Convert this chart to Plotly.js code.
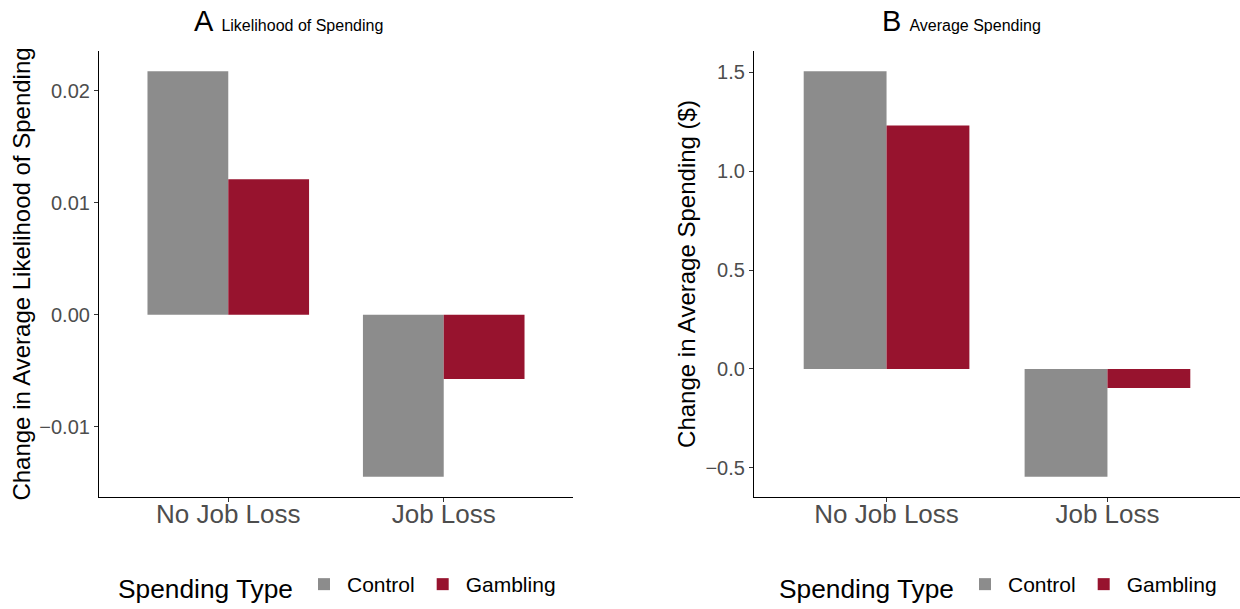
<!DOCTYPE html>
<html>
<head>
<meta charset="utf-8">
<script src="https://cdn.plot.ly/plotly-3.0.1.min.js"></script>
<style>html,body{margin:0;padding:0;background:#fff;}#chart{width:1240px;height:609px;}</style>
</head>
<body>
<div id="chart"></div>
<script>
// ---- data ----
const categories = ["No Job Loss", "Job Loss"];
const seriesNames = ["Control", "Gambling"];
const likelihoodControl = [0.02176, -0.01446];
const likelihoodGambling = [0.01212, -0.00574];
const spendingControl = [1.505, -0.545];
const spendingGambling = [1.231, -0.096];
const likelihoodTicks = [-0.01, 0, 0.01, 0.02];
const spendingTicks = [-0.5, 0, 0.5, 1.0, 1.5];
const panelTitleA = ["A", "Likelihood of Spending"];
const panelTitleB = ["B", "Average Spending"];
const yTitleA = "Change in Average Likelihood of Spending";
const yTitleB = "Change in Average Spending ($)";
const legendTitle = "Spending Type";

const colors = {Control: "#8C8C8C", Gambling: "#97132E"};
const W = 1240, H = 609;
const px = v => v / W;
const py = v => 1 - v / H;
const FONT = "Liberation Sans, Arial, sans-serif";

function bar(name, y, xa, ya, leg) {
  return {
    type: "bar", name: name, x: categories, y: y,
    xaxis: xa, yaxis: ya, legend: leg,
    marker: {color: colors[name], line: {width: 0}},
    hoverinfo: "x+y+name"
  };
}

const data = [
  bar(seriesNames[0], likelihoodControl, "x", "y", "legend"),
  bar(seriesNames[1], likelihoodGambling, "x", "y", "legend"),
  bar(seriesNames[0], spendingControl, "x2", "y2", "legend2"),
  bar(seriesNames[1], spendingGambling, "x2", "y2", "legend2")
];

function xAxis(domain, anchor) {
  return {
    domain: domain, anchor: anchor, type: "category",
    range: [-0.6, 1.6], fixedrange: true,
    showline: true, linecolor: "#000", linewidth: 1.2,
    ticks: "outside", ticklen: 4, tickcolor: "#333", tickwidth: 1.1,
    ticklabelstandoff: -10,
    showgrid: false, zeroline: false,
    tickfont: {family: FONT, size: 26, color: "#4d4d4d"}
  };
}
function yAxis(anchor, range, ticks, fmt, title, standoff) {
  return {
    domain: [py(497), py(51)], anchor: anchor,
    range: range, fixedrange: true,
    tickvals: ticks, tickformat: fmt,
    showline: true, linecolor: "#000", linewidth: 1.2,
    ticks: "outside", ticklen: 4, tickcolor: "#333", tickwidth: 1.1,
    showgrid: false, zeroline: false,
    tickfont: {family: FONT, size: 20, color: "#4d4d4d"},
    title: {text: title, font: {family: FONT, size: 24, color: "#000"}, standoff: standoff}
  };
}

function legendCfg(xLeft) {
  return {
    orientation: "h", x: px(xLeft), xanchor: "left",
    y: 0, yanchor: "bottom",
    itemwidth: 36,
    title: {text: legendTitle, side: "left", font: {family: FONT, size: 26.3, color: "#000"}},
    font: {family: FONT, size: 21, color: "#000"},
    bgcolor: "rgba(0,0,0,0)", borderwidth: 0,
    traceorder: "normal"
  };
}

function panelTitle(parts) {
  return "<span style='font-size:29px'>" + parts[0] + "&nbsp;</span><span style='font-size:16px'>" + parts[1] + "</span>";
}

const layout = {
  width: W, height: H,
  margin: {l: 0, r: 0, t: 0, b: 0},
  paper_bgcolor: "#fff", plot_bgcolor: "#fff",
  font: {family: FONT},
  barmode: "group", bargap: 0.25, bargroupgap: 0,
  showlegend: true,
  xaxis: xAxis([px(99), px(573)], "y"),
  yaxis: yAxis("x", [-0.01628, 0.02357], likelihoodTicks, ".2f", yTitleA, 1),
  xaxis2: xAxis([px(754), 1], "y2"),
  yaxis2: yAxis("x2", [-0.6475, 1.6075], spendingTicks, ".1f", yTitleB, 3),
  legend: legendCfg(116),
  legend2: legendCfg(777),
  annotations: [
    {text: panelTitle(panelTitleA), xref: "paper", yref: "paper", x: px(288), y: py(21),
     xanchor: "center", yanchor: "middle", showarrow: false, font: {family: FONT, color: "#000"}},
    {text: panelTitle(panelTitleB), xref: "paper", yref: "paper", x: px(961), y: py(21),
     xanchor: "center", yanchor: "middle", showarrow: false, font: {family: FONT, color: "#000"}}
  ]
};

Plotly.newPlot("chart", data, layout, {displayModeBar: false, staticPlot: false});
</script>
</body>
</html>
